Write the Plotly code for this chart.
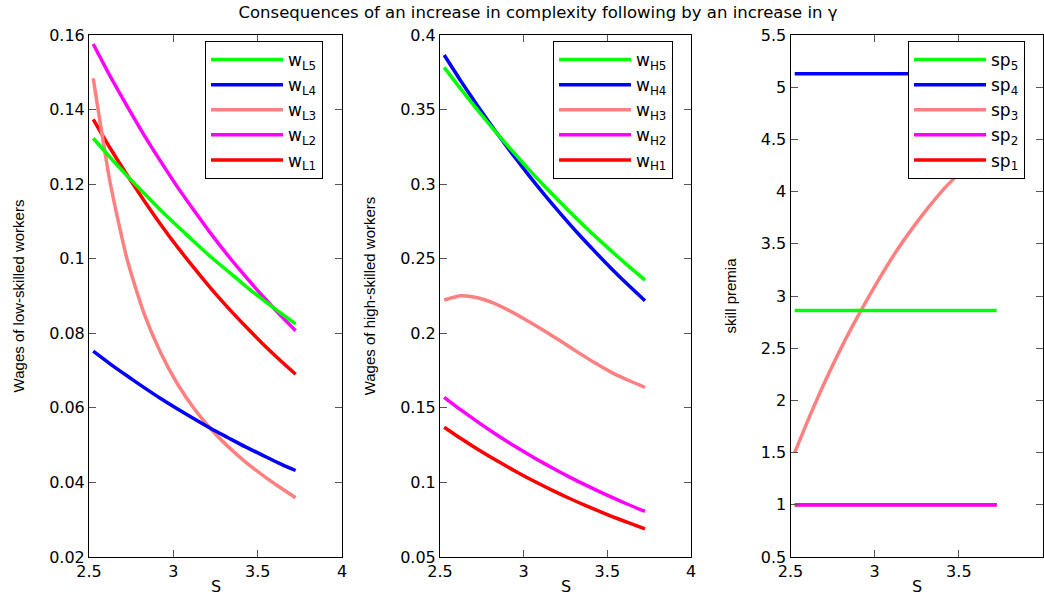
import plotly.graph_objects as go

# ---------------- data ----------------
S = [2.525, 2.625, 2.725, 2.825, 2.925, 3.025, 3.125, 3.225, 3.325, 3.425, 3.525, 3.625, 3.725]

# panel 1: wages of low-skilled workers
wL5 = [0.1323, 0.1272, 0.1223, 0.1176, 0.1130, 0.1087, 0.1045, 0.1004, 0.0966, 0.0928, 0.0892, 0.0858, 0.0825]
wL4 = [0.0752, 0.0718, 0.0686, 0.0655, 0.0625, 0.0597, 0.0570, 0.0544, 0.0520, 0.0496, 0.0474, 0.0452, 0.0432]
wL3 = [0.1484, 0.1205, 0.1000, 0.0855, 0.0748, 0.0664, 0.0597, 0.0542, 0.0496, 0.0456, 0.0421, 0.0389, 0.0359]
wL2 = [0.1576, 0.1490, 0.1410, 0.1333, 0.1261, 0.1192, 0.1128, 0.1066, 0.1008, 0.0954, 0.0902, 0.0853, 0.0807]
wL1 = [0.1374, 0.1297, 0.1225, 0.1157, 0.1092, 0.1031, 0.0974, 0.0919, 0.0868, 0.0820, 0.0774, 0.0731, 0.0690]

# panel 2: wages of high-skilled workers
wH5 = [0.3783, 0.3637, 0.3496, 0.3361, 0.3231, 0.3106, 0.2986, 0.2871, 0.2760, 0.2653, 0.2551, 0.2452, 0.2357]
wH4 = [0.3866, 0.3691, 0.3524, 0.3365, 0.3213, 0.3067, 0.2928, 0.2796, 0.2669, 0.2549, 0.2433, 0.2323, 0.2218]
wH3 = [0.2223, 0.2252, 0.2238, 0.2200, 0.2145, 0.2083, 0.2016, 0.1945, 0.1872, 0.1802, 0.1738, 0.1685, 0.1638]
wH2 = [0.1571, 0.1486, 0.1406, 0.1330, 0.1258, 0.1190, 0.1126, 0.1065, 0.1007, 0.0953, 0.0901, 0.0852, 0.0806]
wH1 = [0.1370, 0.1294, 0.1222, 0.1155, 0.1091, 0.1030, 0.0973, 0.0918, 0.0867, 0.0819, 0.0773, 0.0730, 0.0688]

# panel 3: skill premia
sp5 = [2.86, 2.86, 2.86, 2.86, 2.86, 2.86, 2.86, 2.86, 2.86, 2.86, 2.86, 2.86, 2.86]
sp4 = [5.13, 5.13, 5.13, 5.13, 5.13, 5.13, 5.13, 5.13, 5.13, 5.13, 5.13, 5.13, 5.13]
sp3 = [1.50, 1.89, 2.25, 2.58, 2.88, 3.16, 3.42, 3.65, 3.86, 4.05, 4.21, 4.35, 4.47]
sp2 = [1.00, 1.00, 1.00, 1.00, 1.00, 1.00, 1.00, 1.00, 1.00, 1.00, 1.00, 1.00, 1.00]
sp1 = [1.00, 1.00, 1.00, 1.00, 1.00, 1.00, 1.00, 1.00, 1.00, 1.00, 1.00, 1.00, 1.00]

title_text = "Consequences of an increase in complexity following by an increase in \u03b3"
ylabels = ["Wages of low-skilled workers", "Wages of high-skilled workers", "skill premia"]
xlabel = "S"

# ---------------- styling ----------------
colors = {1: "#FF0000", 2: "#FF00FF", 3: "#FF8080", 4: "#0000FF", 5: "#00FF00"}
LW = 3.5
FONT = "DejaVu Sans"

panels = [
    ("w<sub>L%d</sub>", [wL1, wL2, wL3, wL4, wL5], [0.02, 0.16], 0.02),
    ("w<sub>H%d</sub>", [wH1, wH2, wH3, wH4, wH5], [0.05, 0.40], 0.05),
    ("sp<sub>%d</sub>", [sp1, sp2, sp3, sp4, sp5], [0.5, 5.5], 0.5),
]

W, H = 1044, 596
xpix = [(89, 342), (440, 691), (790.5, 1043)]
ytop, ybot = 35, 557
leg_left = [205, 553, 908]
leg_top = 41


def px(xp):
    return xp / W


def py(yp):
    return 1 - yp / H


fig = go.Figure()
layout = {}
annotations = []
for i, (fmt, series, yr, dy) in enumerate(panels):
    n = i + 1
    xa = "x" if n == 1 else "x%d" % n
    ya = "y" if n == 1 else "y%d" % n
    lg = "legend" if n == 1 else "legend%d" % n
    for k, vals in enumerate(series):
        idx = k + 1
        fig.add_trace(go.Scatter(
            x=S, y=vals, mode="lines", name=fmt % idx,
            line=dict(color=colors[idx], width=LW, shape="spline", smoothing=0.6),
            xaxis=xa, yaxis=ya, legend=lg, showlegend=True))
    axcommon = dict(showline=True, linecolor="black", linewidth=1, mirror="ticks",
                    ticks="inside", ticklen=7, tickcolor="#555", tickwidth=1,
                    showgrid=False, zeroline=False,
                    tickfont=dict(family=FONT, size=16, color="black"))
    layout["xaxis" if n == 1 else "xaxis%d" % n] = dict(
        domain=[px(xpix[i][0]), px(xpix[i][1])], range=[2.5, 4], dtick=0.5, tick0=2.5,
        anchor=ya, **axcommon)
    layout["yaxis" if n == 1 else "yaxis%d" % n] = dict(
        domain=[py(ybot), py(ytop)], range=yr, dtick=dy, tick0=yr[0],
        anchor=xa, title=dict(text=ylabels[i], font=dict(family="Liberation Sans", size=15, color="black"), standoff=20),
        **axcommon)
    layout[lg] = dict(x=px(leg_left[i]), y=py(leg_top), xanchor="left", yanchor="top",
                      xref="paper", yref="paper",
                      bordercolor="black", borderwidth=1, bgcolor="white",
                      traceorder="reversed", itemwidth=72,
                      font=dict(family=FONT, size=17, color="black"),
                      tracegroupgap=0)
    annotations.append(dict(text=xlabel, xref="paper", yref="paper",
                            x=px((xpix[i][0] + xpix[i][1]) / 2), y=py(586),
                            xanchor="center", yanchor="middle", showarrow=False,
                            font=dict(family=FONT, size=16, color="black")))

fig.update_layout(**layout)
fig.update_layout(
    width=W, height=H, template="none",
    paper_bgcolor="white", plot_bgcolor="white",
    margin=dict(l=0, r=0, t=0, b=0),
    annotations=annotations,
    title=dict(text=title_text, x=px(538), xanchor="center", xref="paper",
               y=py(12), yref="container", yanchor="middle",
               font=dict(family=FONT, size=16.5, color="black")),
)

fig.write_html("out.html", config={"displayModeBar": False},
               post_script="document.body.style.margin='0px';document.body.style.overflow='hidden';")
